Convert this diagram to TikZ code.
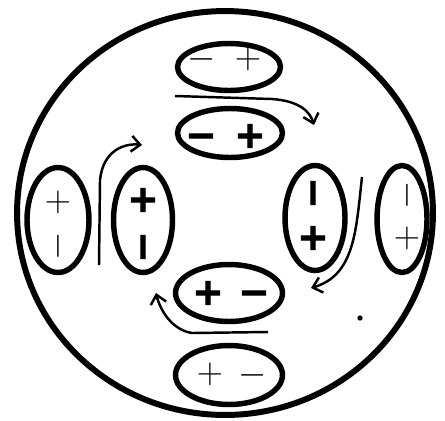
\documentclass[tikz,border=0pt]{standalone}
\usepackage{fontspec}
\usetikzlibrary{shapes.geometric,arrows.meta}
\newfontfamily\heavysign[FakeBold=3]{DejaVu Sans Bold}
\begin{document}
\begin{tikzpicture}[x=0.02cm, y=-0.02cm,
    dip/.style={draw, ellipse, line width=3.1pt, inner sep=0pt},
    thin sign/.style={inner sep=0pt, font=\fontsize{22}{22}\selectfont},
    bold sign/.style={inner sep=0pt, font=\fontsize{21}{21}\heavysign},
    flow/.style={line width=1.4pt, -{Straight Barb[length=5pt, width=9pt, line width=1.4pt]}}]
    \useasboundingbox (0,0) rectangle (445,420);
    % Cell
    \draw [line width=3.4pt] (225,213) ellipse [x radius=4.16cm, y radius=4.04cm];
    % Dipoles
    \node [dip, minimum width=2.06cm, minimum height=0.94cm] (outT) at (229,67) {};
    \node [dip, minimum width=2.1cm, minimum height=0.98cm] (inT) at (230,133) {};
    \node [dip, minimum width=1.24cm, minimum height=2.1cm] (outL) at (58,220) {};
    \node [dip, minimum width=1.18cm, minimum height=2.1cm] (inL) at (143,220) {};
    \node [dip, minimum width=1.2cm, minimum height=2.1cm] (inR) at (315,218) {};
    \node [dip, minimum width=1.0cm, minimum height=2.14cm] (outR) at (402,219) {};
    \node [dip, minimum width=2.14cm, minimum height=1.14cm] (inB) at (229,293) {};
    \node [dip, minimum width=2.14cm, minimum height=1.18cm] (outB) at (229,375) {};
    % Charges
    \node [thin sign] (outTm) at (202,59) {$\vphantom{+}-$};
    \node [thin sign] (outTp) at (248,59) {$+$};
    \node [bold sign] (inTm) at (201,136) {\vphantom{+}−};
    \node [bold sign] (inTp) at (250,136) {+};
    \node [thin sign] (outLp) at (58,202) {$+$};
    \node [thin sign, rotate=90] (outLm) at (58,246) {$\vphantom{+}-$};
    \node [bold sign] (inLp) at (143,200) {+};
    \node [bold sign, rotate=90] (inLm) at (143,247) {\vphantom{+}−};
    \node [bold sign, rotate=90] (inRm) at (313,193) {\vphantom{+}−};
    \node [bold sign] (inRp) at (313,238) {+};
    \node [thin sign, rotate=90] (outRm) at (407,195) {$\vphantom{+}-$};
    \node [thin sign] (outRp) at (407,238) {$+$};
    \node [bold sign] (inBp) at (208,293) {+};
    \node [bold sign] (inBm) at (254,293) {\vphantom{+}−};
    \node [thin sign] (outBp) at (210,374) {$+$};
    \node [thin sign] (outBm) at (253,375) {$\vphantom{+}-$};
    % Flow
    \coordinate (topA) at (175,96);
    \coordinate (topB) at (314,125);
    \coordinate (leftA) at (99,265);
    \coordinate (leftB) at (142,145);
    \coordinate (rightA) at (362,177);
    \coordinate (rightB) at (311,288);
    \coordinate (botA) at (268,332);
    \coordinate (botB) at (156,293);
    \draw [flow] (topA) -- (272,99) .. controls (300,101) and (310,112) .. (topB);
    \draw [flow] (leftA) -- (100,180) .. controls (103,150) and (125,143) .. (leftB);
    \draw [flow] (rightA) .. controls (356,230) and (355,275) .. (rightB);
    \draw [flow] (botA) -- (192,333) .. controls (172,330) and (160,310) .. (botB);
    % Speck
    \fill (360,318) circle [radius=1.5pt];
\end{tikzpicture}
\end{document}
